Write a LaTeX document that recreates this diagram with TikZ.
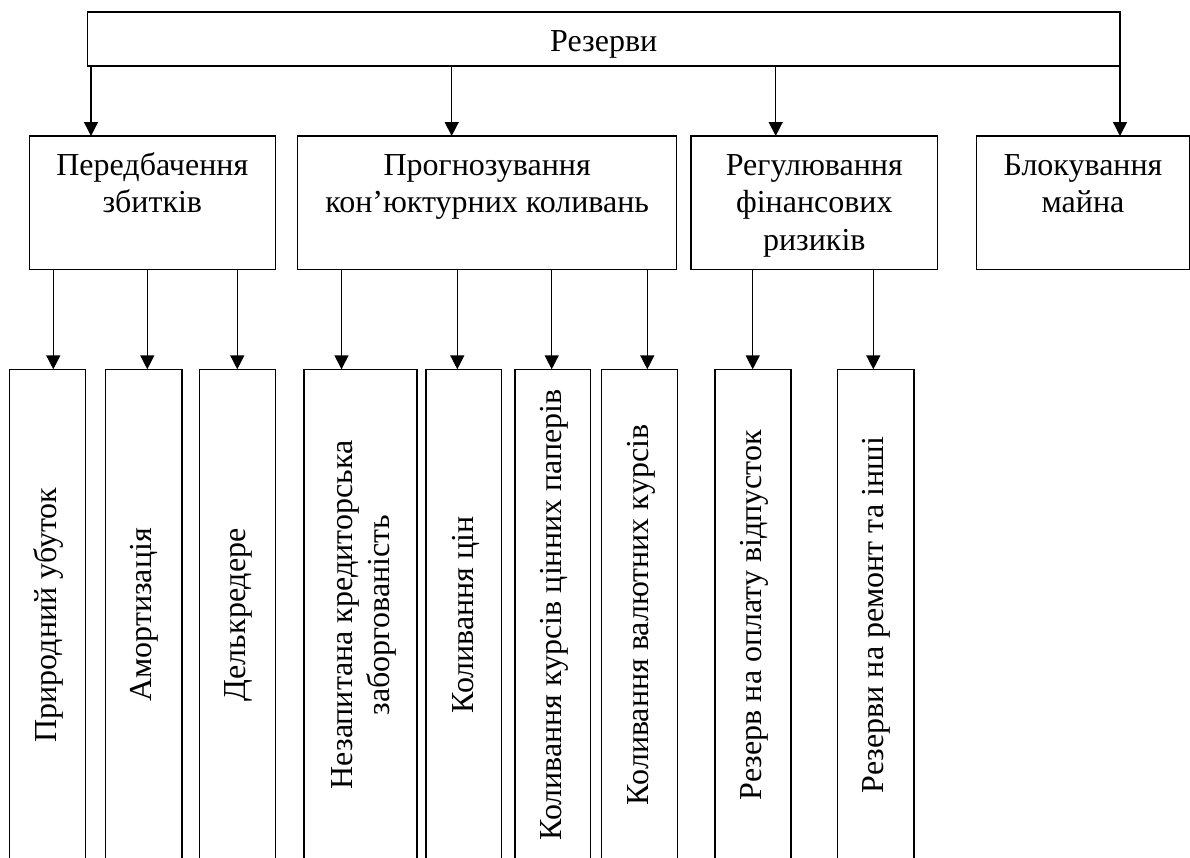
\documentclass[tikz,border=0pt]{standalone}
\usepackage{fontspec}
\setmainfont{Liberation Serif}
\usetikzlibrary{arrows.meta}
\tikzset{
  boxst/.style={draw, line width=1.5pt, inner sep=0pt, outer sep=0pt, fill=none},
  txt/.style={inner sep=0pt, outer sep=0pt, font=\fontsize{32}{37.5}\selectfont},
  arr/.style={line width=1.4pt, -{Triangle[length=14pt,width=14pt]}},
}
\newcommand\mybox[5]{%
  \node[boxst, minimum width={#4-#2}, minimum height={#5-#3}, anchor=north west] (#1) at (#2,#3) {};}
\begin{document}
\begin{tikzpicture}[x=1pt,y=-1pt]
\useasboundingbox (0,0) rectangle (1190,857);
\begin{scope}
\clip (0,0) rectangle (1190,857);
% top box
\mybox{top}{87.3}{12}{1120}{66}
\node[txt, anchor=base] (ttop) at (603.7,51.7) {Резерви};
% middle boxes
\mybox{m1}{29.3}{136}{275.3}{269.5}
\mybox{m2}{297.7}{136}{676.7}{269.5}
\mybox{m3}{691}{136}{937.7}{269.5}
\mybox{m4}{976.7}{136}{1189.3}{269.5}
\node[txt, anchor=base, align=center] (tm1) at (152.3,212.5) {Передбачення\\збитків};
\node[txt, anchor=base, align=center] (tm2) at (487.2,212.5) {Прогнозування\\кон’юктурних коливань};
\node[txt, anchor=base, align=center] (tm3) at (814.3,250) {Регулювання\\фінансових\\ризиків};
\node[txt, anchor=base, align=center] (tm4) at (1083,212.5) {Блокування\\майна};
% bottom boxes
\mybox{l1}{9.3}{369.3}{85.3}{862}
\mybox{l2}{105.7}{369.3}{182}{862}
\mybox{l3}{199.3}{369.3}{275.3}{862}
\mybox{l4}{304}{369.3}{417}{862}
\mybox{l5}{426}{369.3}{501.7}{862}
\mybox{l6}{515}{369.3}{590.7}{862}
\mybox{l7}{601.7}{369.3}{677.3}{862}
\mybox{l8}{715}{369.3}{791}{862}
\mybox{l9}{837.3}{369.3}{914}{862}
\node[txt, rotate=90] (tl1) at (48.5,615) {Природний убуток};
\node[txt, rotate=90] (tl2) at (144.5,615) {Амортизація};
\node[txt, rotate=90] (tl3) at (238.5,615) {Делькредере};
\node[txt, rotate=90, align=center] (tl4) at (364,615) {Незапитана кредиторська\\заборгованість};
\node[txt, rotate=90] (tl5) at (466,615) {Коливання цін};
\node[txt, rotate=90] (tl6) at (554.5,615) {Коливання курсів цінних паперів};
\node[txt, rotate=90] (tl7) at (641,615) {Коливання валютних курсів};
\node[txt, rotate=90] (tl8) at (754,615) {Резерв на оплату відпусток};
\node[txt, rotate=90] (tl9) at (876.5,615) {Резерви на ремонт та інші};
% arrows top -> middle
\draw[arr] (top.south -| 91,0) -- (m1.north -| 91,0);
\draw[arr] (top.south -| 451.7,0) -- (m2.north -| 451.7,0);
\draw[arr] (top.south -| 775.7,0) -- (m3.north -| 775.7,0);
\draw[arr] (top.south east) -- (m4.north -| top.south east);
% arrows middle -> bottom
\draw[arr] (m1.south -| 53.3,0) -- (l1.north -| 53.3,0);
\draw[arr] (m1.south -| 147.3,0) -- (l2.north -| 147.3,0);
\draw[arr] (m1.south -| 237.3,0) -- (l3.north -| 237.3,0);
\draw[arr] (m2.south -| 341.5,0) -- (l4.north -| 341.5,0);
\draw[arr] (m2.south -| 457.3,0) -- (l5.north -| 457.3,0);
\draw[arr] (m2.south -| 551.7,0) -- (l6.north -| 551.7,0);
\draw[arr] (m2.south -| 647.3,0) -- (l7.north -| 647.3,0);
\draw[arr] (m3.south -| 752.7,0) -- (l8.north -| 752.7,0);
\draw[arr] (m3.south -| 873.3,0) -- (l9.north -| 873.3,0);
\end{scope}
\end{tikzpicture}
\end{document}
